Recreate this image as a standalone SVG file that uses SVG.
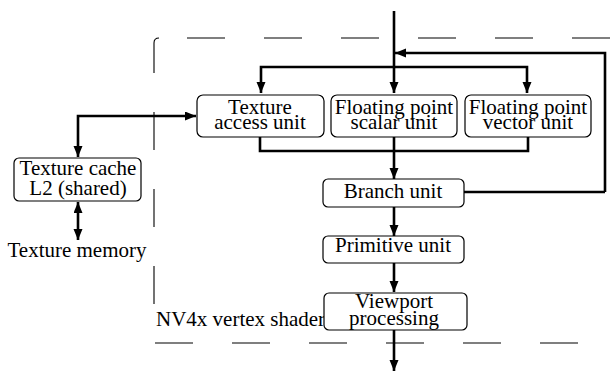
<svg xmlns="http://www.w3.org/2000/svg" width="610" height="371" viewBox="0 0 610 371" font-family="'Liberation Serif', 'DejaVu Serif', serif">
<style>
.box{fill:#fff;stroke:#000;stroke-width:1.2}
text{font-family:'Liberation Serif','DejaVu Serif',serif;font-size:21px;fill:#000}
.t{text-anchor:middle}
.c{fill:none;stroke:#000;stroke-width:2.6}
.d{fill:none;stroke:#000;stroke-width:1.1}
</style>
<defs>
<marker id="ah" markerUnits="userSpaceOnUse" markerWidth="12" markerHeight="10" refX="11" refY="4.5" orient="auto-start-reverse" viewBox="0 0 12 10">
<path d="M0,0 L11,4.5 L0,9 z" fill="#000"/>
</marker>
</defs>
<g id="frame">
<path class="d" d="M154,73 V43 Q154,38 159,38"/>
<path class="d" stroke-dasharray="38 39" d="M187,38 H610"/>
<path class="d" stroke-dasharray="38 39" d="M154,112 V304"/>
<path class="d" stroke-dasharray="38 39" d="M155,343 H578"/>
<text x="156" y="326">NV4x vertex shader</text>
</g>
<g id="connectors">
<path class="c" d="M394,11 V93" marker-end="url(#ah)"/>
<path class="c" d="M261,93 V67 H527 V93" marker-start="url(#ah)" marker-end="url(#ah)"/>
<path class="c" d="M605,192 V53 H395" marker-end="url(#ah)"/>
<path class="c" d="M464,192 H605"/>
<path class="c" d="M260,137 V151 H528 V137"/>
<path class="c" d="M394,137 V179" marker-end="url(#ah)"/>
<path class="c" d="M394,207 V236" marker-end="url(#ah)"/>
<path class="c" d="M394,263 V292" marker-end="url(#ah)"/>
<path class="c" d="M394,330 V371" marker-end="url(#ah)"/>
<path class="c" d="M78,157 V116 H196" marker-start="url(#ah)" marker-end="url(#ah)"/>
<path class="c" d="M78,202 V240" marker-start="url(#ah)" marker-end="url(#ah)"/>
</g>
<g id="texture-access">
<rect class="box" x="197" y="95" width="127" height="42" rx="6"/>
<text class="t" x="260" y="114">Texture</text>
<text class="t" x="260" y="129">access unit</text>
</g>
<g id="fp-scalar">
<rect class="box" x="331" y="95" width="126" height="42" rx="6"/>
<text class="t" x="394" y="114">Floating point</text>
<text class="t" x="394" y="129">scalar unit</text>
</g>
<g id="fp-vector">
<rect class="box" x="465" y="95" width="126" height="42" rx="6"/>
<text class="t" x="528" y="114">Floating point</text>
<text class="t" x="528" y="129">vector unit</text>
</g>
<g id="texture-cache">
<rect class="box" x="14" y="158" width="127" height="43" rx="5"/>
<text class="t" x="78" y="175">Texture cache</text>
<text class="t" x="78" y="195">L2 (shared)</text>
</g>
<g id="texture-memory">
<text class="t" x="77" y="257">Texture memory</text>
</g>
<g id="branch">
<rect class="box" x="323" y="179" width="141" height="28" rx="5"/>
<text class="t" x="393" y="198">Branch unit</text>
</g>
<g id="primitive">
<rect class="box" x="323" y="236" width="141" height="27" rx="5"/>
<text class="t" x="393" y="252">Primitive unit</text>
</g>
<g id="viewport">
<rect class="box" x="324" y="293" width="143" height="37" rx="5"/>
<text class="t" x="394" y="308">Viewport</text>
<text class="t" x="394" y="325">processing</text>
</g>
</svg>
